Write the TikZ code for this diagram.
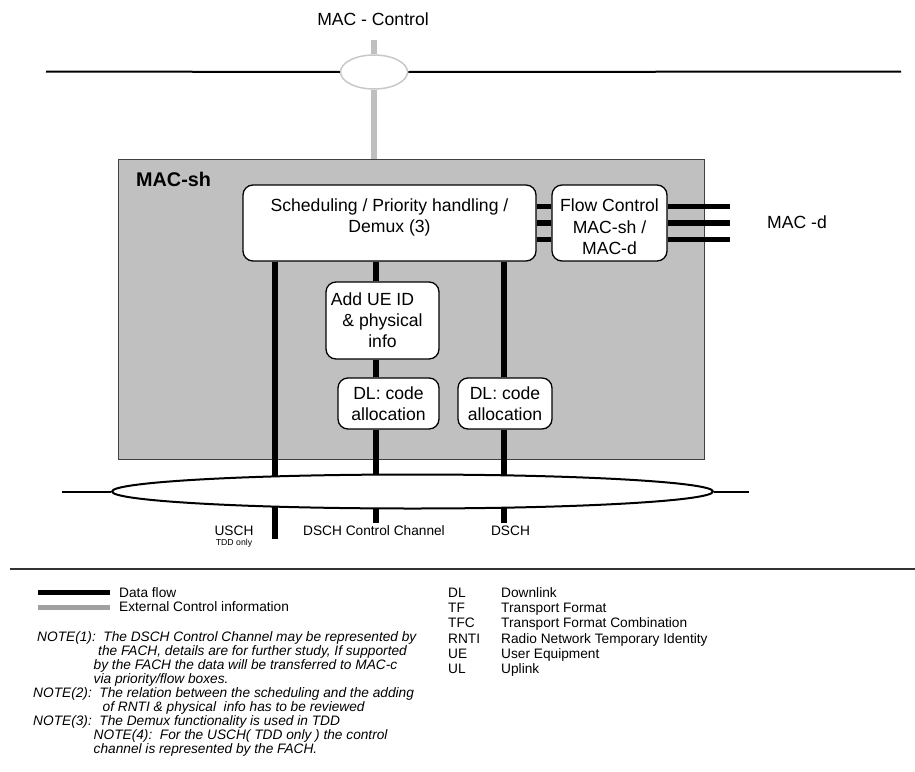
\documentclass[tikz,border=0pt]{standalone}
\usepackage{fontspec}
\setmainfont{Liberation Sans}
\usetikzlibrary{shapes.geometric}
\definecolor{boxgray}{HTML}{C0C0C0}
\definecolor{ctrlgray}{HTML}{BFBFBF}
\definecolor{sapgray}{HTML}{C8C8C8}
\definecolor{keygray}{HTML}{A0A0A0}
\definecolor{rulegray}{HTML}{333333}

\begin{document}
\begin{tikzpicture}[x=1pt,y=-1pt]
    \tikzstyle{every node}=[font=\fontsize{17.6}{21}\selectfont]
    \tikzstyle{block}=[draw,fill=white,rounded corners=10pt,line width=1.3pt,inner sep=0pt,align=center]
    \tikzstyle{data}=[line width=5.5pt]
    \tikzstyle{control}=[line width=6pt,draw=ctrlgray]
    \tikzstyle{small}=[font=\fontsize{13.7}{14}\selectfont,inner sep=0pt,text height=9.8pt,text depth=0pt]
    \tikzstyle{note}=[small,font=\fontsize{13.7}{14}\selectfont\itshape,anchor=west]
    \useasboundingbox (0,0) rectangle (915,771);

    % Draw the control access point on top
    \node (ctrl) at (373,19) {MAC - Control};
    \node[ellipse,draw=sapgray,line width=1.5pt,minimum width=67pt,minimum height=34pt,inner sep=0pt] (sap) at (374,72) {};
    \coordinate (ctrltop) at (374,40);
    \coordinate (topl) at (46,71.5);
    \coordinate (topr) at (901,71.5);
    \draw[line width=2pt] (topl) -- (sap.west);
    \draw[line width=2pt] (sap.east) -- (topr);

    % The MAC-sh entity
    \node[draw=black!75,fill=boxgray,line width=1pt,minimum width=586pt,minimum height=300pt,inner sep=0pt] (macsh) at (411,309) {};
    \node[font=\fontsize{19.8}{22}\selectfont\bfseries,anchor=west,inner sep=0pt] (shlabel) at (136,179.5) {MAC-sh};
    \draw[control] (ctrltop) -- (sap.north);
    \draw[control] (sap.south) -- (sap.south |- macsh.north);

    % Draw the functional blocks
    \node[block,minimum width=293pt,minimum height=76pt] (sched) at (389.5,223) {};
    \node[anchor=north,align=center,inner sep=0pt] (schedtext) at (389.5,199) {Scheduling / Priority handling /\\Demux (3)};
    \node[block,minimum width=115pt,minimum height=76pt] (flow) at (609.5,223) {};
    \node[align=center,inner sep=0pt,font=\fontsize{17.6}{21.5}\selectfont] (flowtext) at (609.5,227) {Flow Control\\MAC-sh /\\MAC-d};
    \node[block,minimum width=113pt,minimum height=77pt] (addue) at (382.5,320.5) {Add UE ID\kern20pt\\\& physical\\info};
    \node[block,minimum width=101pt,minimum height=51pt] (dlone) at (388.5,403.5) {DL: code\\allocation};
    \node[block,minimum width=94pt,minimum height=51pt] (dltwo) at (505,403.5) {DL: code\\allocation};

    % Flows towards MAC-d
    \coordinate (macd) at (730,223);
    \node (macdlabel) at (797,222) {MAC -d};
    \foreach \dy in {16.5,0,-16.3}{
        \draw[data] ([yshift=\dy pt]sched.east) -- ([yshift=\dy pt]flow.west);
        \draw[data] ([yshift=\dy pt]flow.east) -- ([yshift=\dy pt]macd);
    }

    % Transport channels
    \coordinate (usch) at (275,539);
    \coordinate (ctrlch) at (376,523);
    \coordinate (dsch) at (504,523);
    \draw[data] (sched.south -| usch) -- (usch);
    \draw[data] (sched.south -| ctrlch) -- (addue.north -| ctrlch);
    \draw[data] (addue.south -| ctrlch) -- (dlone.north -| ctrlch);
    \draw[data] (dlone.south -| ctrlch) -- (ctrlch);
    \draw[data] (sched.south -| dsch) -- (dltwo.north -| dsch);
    \draw[data] (dltwo.south -| dsch) -- (dsch);

    % Physical layer access point
    \node[ellipse,draw,fill=white,line width=2pt,minimum width=601pt,minimum height=34pt,inner sep=0pt] (phy) at (412.5,491.5) {};
    \coordinate (phyl) at (62,491.5);
    \coordinate (phyr) at (749,491.5);
    \draw[line width=2pt] (phyl) -- (phy.west);
    \draw[line width=2pt] (phy.east) -- (phyr);

    % Annotate the channels
    \node[small] (uschlabel) at (234,531) {USCH};
    \node[font=\fontsize{8.7}{9}\selectfont,inner sep=0pt] (tddlabel) at (234,543.5) {TDD only};
    \node[small] (ctrlchlabel) at (374,531) {DSCH Control Channel};
    \node[small] (dschlabel) at (510.5,531) {DSCH};

    % Separator
    \coordinate (sepl) at (10,568.5);
    \coordinate (sepr) at (915,568.5);
    \draw[rulegray,line width=2pt] (sepl) -- (sepr);

    % Legend
    \node[small,anchor=west] (datakey) at (119,592.5) {Data flow};
    \node[small,anchor=west] (ctrlkey) at (119,607) {External Control information};
    \coordinate (datakeyend) at (38,592.5);
    \coordinate (ctrlkeyend) at (38,607);
    \draw[line width=5pt] (datakeyend) -- ([xshift=-9pt]datakey.west);
    \draw[line width=5pt,keygray] (ctrlkeyend) -- ([xshift=-9pt]ctrlkey.west);

    % Notes
    \node[note] (note1a) at (37,637) {NOTE(1):\ \ The DSCH Control Channel may be represented by};
    \node[note] (note1b) at (98,651) {the FACH, details are for further study, If supported};
    \node[note] (note1c) at (93.5,665) {by the FACH the data will be transferred to MAC-c};
    \node[note] (note1d) at (93.5,679) {via priority/flow boxes.};
    \node[note] (note2a) at (33,693) {NOTE(2):\ \ The relation between the scheduling and the adding};
    \node[note] (note2b) at (102.5,707) {of RNTI \& physical\ \ info has to be reviewed};
    \node[note] (note3a) at (33,721) {NOTE(3):\ \ The Demux functionality is used in TDD};
    \node[note] (note4a) at (93.5,735) {NOTE(4):\ \ For the USCH( TDD only ) the control};
    \node[note] (note4b) at (93.5,749) {channel is represented by the FACH.};

    % Abbreviations
    \foreach \abbr/\full [count=\i] in {DL/Downlink,TF/Transport Format,TFC/Transport Format Combination,RNTI/Radio Network Temporary Identity,UE/User Equipment,UL/Uplink}{
        \node[small,anchor=west] (abbr-\i) at (448,577.3+15.2*\i) {\abbr};
        \node[small,anchor=west] (full-\i) at (501,577.3+15.2*\i) {\full};
    }
\end{tikzpicture}
\end{document}
